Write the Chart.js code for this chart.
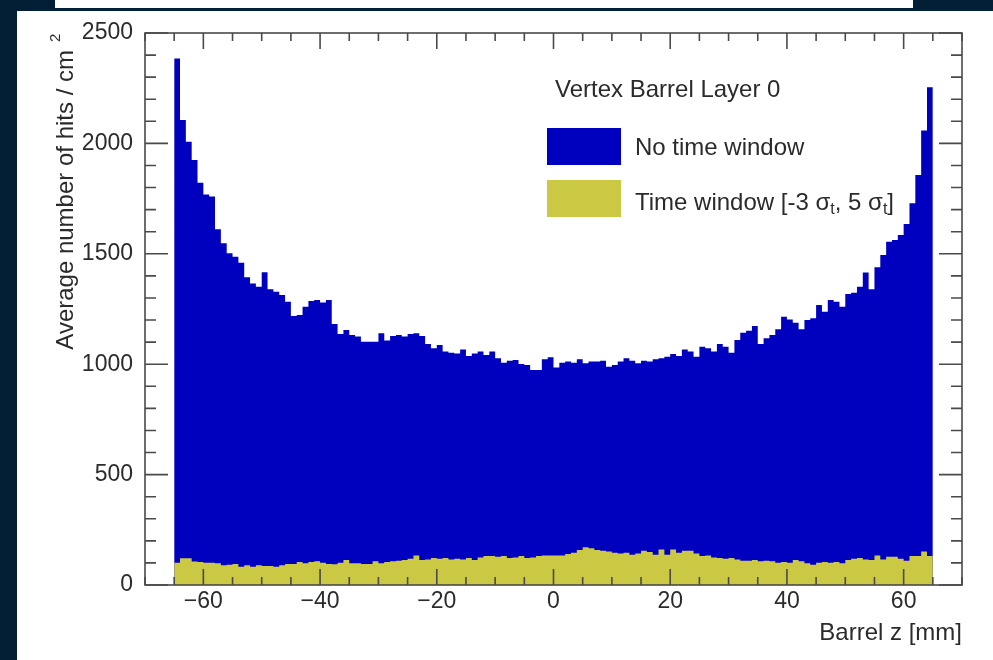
<!DOCTYPE html>
<html lang="en">
<head>
    <meta charset="UTF-8">
    <title>Vertex Barrel Layer 0 hits</title>
    <style>
        html, body { margin: 0; padding: 0; }
        body { width: 993px; height: 660px; background: #031f36; position: relative; overflow: hidden; }
        #topbar { position: absolute; left: 55px; top: 0; width: 858px; height: 8px; background: #fff; }
        #panel { position: absolute; left: 17px; top: 11px; width: 976px; height: 649px; background: #fff; }
        #wrap { position: absolute; left: 0; top: 0; width: 993px; height: 660px; }
    </style>
</head>
<body>
    <div id="topbar"></div>
    <div id="panel"></div>
    <div id="wrap"><canvas id="mychart" width="993" height="660"></canvas></div>

    <script src="https://cdn.jsdelivr.net/npm/chart.js"></script>
    <script>
        // histogram binning: 130 bins of 1 mm from -65 to 65
        const binLo = -65;
        const binWidth = 1;

        // average hits / cm^2, no time window (blue)
        const noWindow = [
            2385, 2106, 2008, 1925, 1822, 1769, 1759, 1611, 1548, 1502,
            1487, 1460, 1394, 1366, 1351, 1416, 1339, 1328, 1313, 1283,
            1218, 1223, 1260, 1286, 1291, 1279, 1291, 1182, 1137, 1155,
            1132, 1125, 1102, 1102, 1102, 1140, 1107, 1128, 1132, 1125,
            1137, 1140, 1128, 1091, 1072, 1087, 1057, 1052, 1049, 1067,
            1037, 1049, 1057, 1042, 1057, 1027, 1007, 1016, 1019, 1001,
            996, 974, 974, 1022, 1031, 985, 1007, 1012, 1007, 1022,
            1004, 1012, 1012, 1016, 989, 996, 1012, 1027, 1016, 1004,
            1016, 1012, 1022, 1027, 1034, 1046, 1037, 1067, 1057, 1034,
            1079, 1072, 1057, 1091, 1079, 1052, 1110, 1143, 1152, 1173,
            1091, 1117, 1132, 1158, 1215, 1203, 1188, 1158, 1200, 1208,
            1268, 1238, 1291, 1283, 1260, 1318, 1324, 1351, 1415, 1339,
            1439, 1495, 1555, 1563, 1585, 1635, 1729, 1857, 2058, 2254
        ];

        // time window [-3 sigma_t, 5 sigma_t] (yellow)
        const timeWindow = [
            101, 121, 121, 106, 104, 101, 101, 98, 89, 92,
            95, 83, 89, 83, 89, 86, 86, 83, 89, 95,
            95, 104, 98, 104, 107, 101, 95, 94, 101, 113,
            98, 98, 95, 95, 107, 98, 104, 107, 110, 113,
            119, 134, 113, 116, 122, 119, 122, 116, 119, 116,
            122, 113, 125, 131, 131, 128, 131, 122, 125, 131,
            122, 125, 131, 134, 134, 134, 134, 140, 146, 158,
            171, 167, 158, 155, 152, 146, 143, 146, 137, 143,
            155, 149, 137, 161, 137, 161, 146, 155, 155, 143,
            131, 134, 125, 122, 119, 122, 116, 110, 110, 113,
            107, 110, 107, 101, 104, 101, 113, 107, 98, 92,
            101, 104, 101, 104, 98, 113, 119, 122, 116, 113,
            134, 116, 128, 128, 119, 110, 131, 131, 152, 131
        ];

        const xTickVals = [-60, -40, -20, 0, 20, 40, 60];
        const yTickVals = [0, 500, 1000, 1500, 2000, 2500];
        const seriesNames = ['No time window', 'Time window'];
        const legendTitle = 'Vertex Barrel Layer 0';
        const xTitle = 'Barrel z [mm]';
        const yTitle = 'Average number of hits / cm';

        const BLUE = '#0000bf';
        const YELLOW = '#cbc843';
        const INK = '#2b2b2b';
        const FONT = '"Liberation Sans", Arial, Helvetica, sans-serif';

        // step histogram: one point per bin low edge, plus the closing upper edge
        function histPoints(vals) {
            const pts = vals.map((v, i) => ({ x: binLo + binWidth * i, y: v }));
            pts.push({ x: binLo + binWidth * vals.length, y: vals[vals.length - 1] });
            return pts;
        }

        // frame, inside ticks (ROOT style), titles and legend
        const rootDecor = {
            id: 'rootDecor',
            afterDatasetsDraw(chart) {
                const ctx = chart.ctx;
                const a = chart.chartArea;
                const xs = chart.scales.x;
                const ys = chart.scales.y;
                ctx.save();
                ctx.strokeStyle = '#4a4a4a';
                ctx.lineWidth = 1.6;
                ctx.beginPath();
                for (let v = -70; v <= 70; v += 5) {
                    const px = xs.getPixelForValue(v);
                    const len = (v % 20 === 0 && Math.abs(v) <= 60) ? 16 : 8;
                    ctx.moveTo(px, a.bottom); ctx.lineTo(px, a.bottom - len);
                    ctx.moveTo(px, a.top); ctx.lineTo(px, a.top + len);
                }
                for (let v = 0; v <= 2500; v += 100) {
                    const py = ys.getPixelForValue(v);
                    const len = (v % 500 === 0) ? 23 : 11;
                    ctx.moveTo(a.left, py); ctx.lineTo(a.left + len, py);
                    ctx.moveTo(a.right, py); ctx.lineTo(a.right - len, py);
                }
                ctx.stroke();
                ctx.strokeRect(a.left, a.top, a.right - a.left, a.bottom - a.top);

                // axis titles
                ctx.fillStyle = INK;
                ctx.font = '24px ' + FONT;
                ctx.textAlign = 'right';
                ctx.textBaseline = 'middle';
                ctx.fillText(xTitle, a.right, 633);

                ctx.save();
                ctx.translate(66, 50);
                ctx.rotate(-Math.PI / 2);
                ctx.fillText(yTitle, 0, 0);
                ctx.font = '15px ' + FONT;
                ctx.textAlign = 'left';
                ctx.fillText('2', 8, -10);
                ctx.restore();

                // legend
                ctx.font = '24px ' + FONT;
                ctx.textAlign = 'left';
                ctx.fillText(legendTitle, 555, 90);
                ctx.fillStyle = BLUE;
                ctx.fillRect(547, 128, 74, 37);
                ctx.fillStyle = YELLOW;
                ctx.fillRect(547, 180, 74, 37);
                ctx.fillStyle = INK;
                ctx.fillText(seriesNames[0], 635, 148);

                let x = 635;
                const y = 203;
                const sub = (s) => {
                    ctx.font = '16px ' + FONT;
                    ctx.fillText(s, x, y + 7);
                    x += ctx.measureText(s).width;
                    ctx.font = '24px ' + FONT;
                };
                const txt = (s) => {
                    ctx.fillText(s, x, y);
                    x += ctx.measureText(s).width;
                };
                txt(seriesNames[1] + ' [-3 \u03c3');
                sub('t');
                txt(', 5 \u03c3');
                sub('t');
                txt(']');
                ctx.restore();
            }
        };

        new Chart(document.getElementById('mychart').getContext('2d'), {
            type: 'line',
            data: {
                datasets: [
                    {
                        label: seriesNames[0],
                        data: histPoints(noWindow),
                        backgroundColor: BLUE,
                        borderColor: BLUE,
                        borderWidth: 0,
                        pointRadius: 0,
                        stepped: 'before',
                        fill: 'origin',
                        order: 2
                    },
                    {
                        label: seriesNames[1],
                        data: histPoints(timeWindow),
                        backgroundColor: YELLOW,
                        borderColor: YELLOW,
                        borderWidth: 0,
                        pointRadius: 0,
                        stepped: 'before',
                        fill: 'origin',
                        order: 1
                    }
                ]
            },
            options: {
                responsive: false,
                animation: false,
                layout: { padding: { top: 33, right: 31, left: 0, bottom: 0 } },
                plugins: { legend: { display: false }, tooltip: { enabled: false } },
                scales: {
                    x: {
                        type: 'linear',
                        min: -70,
                        max: 70,
                        offset: false,
                        grid: { display: false, drawTicks: false },
                        border: { display: false },
                        afterBuildTicks: (s) => { s.ticks = xTickVals.map(v => ({ value: v })); },
                        afterFit: (s) => { s.height = 75; },
                        ticks: {
                            padding: 3,
                            maxRotation: 0,
                            color: INK,
                            font: { family: FONT, size: 23 },
                            callback: (v) => (v < 0 ? '\u2212' + Math.abs(v) : '' + v)
                        }
                    },
                    y: {
                        min: 0,
                        max: 2500,
                        grid: { display: false, drawTicks: false },
                        border: { display: false },
                        afterBuildTicks: (s) => { s.ticks = yTickVals.map(v => ({ value: v })); },
                        afterFit: (s) => { s.width = 145; },
                        ticks: {
                            padding: 12,
                            color: INK,
                            font: { family: FONT, size: 23 },
                            callback: (v) => '' + v
                        }
                    }
                }
            },
            plugins: [rootDecor]
        });
    </script>
</body>
</html>
